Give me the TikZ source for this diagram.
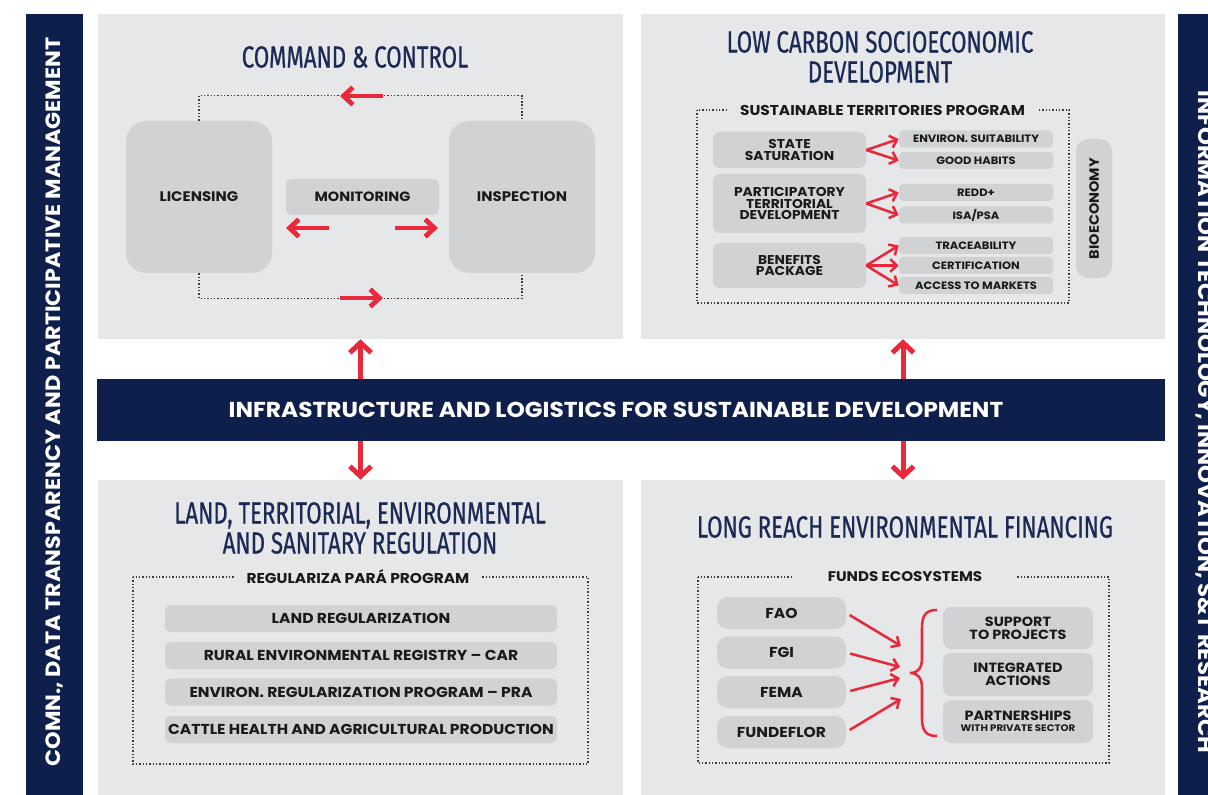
\documentclass[tikz,border=0pt]{standalone}
\usepackage{fontspec}
\setmainfont{Poppins}[FakeStretch=1.08]
\newfontfamily\titlefont[FakeStretch=0.73,FakeBold=0.6]{Fira Sans}
\usetikzlibrary{arrows.meta,calc}
\definecolor{panelgray}{HTML}{E6E7E8}
\definecolor{boxgray}{HTML}{D1D2D4}
\definecolor{navy}{HTML}{0F1F4B}
\definecolor{titlenavy}{HTML}{1B2A55}
\definecolor{arrowred}{HTML}{E8293B}
\definecolor{ink}{HTML}{1A1A1A}
\definecolor{dotgray}{HTML}{3A3A3A}
\tikzset{
  sz/.style 2 args={minimum width=#1*0.75pt, minimum height=#2*0.75pt},
  panel/.style={fill=panelgray, draw=none, inner sep=0pt},
  sidebar/.style={fill=navy, draw=none, inner sep=0pt},
  sidetext/.style={text=white, inner sep=0pt, font=\bfseries\fontsize{15.5}{18}\selectfont},
  titletext/.style={text=titlenavy, align=center, inner sep=0pt, font=\titlefont\fontsize{22.9}{22.5}\selectfont},
  gbox/.style={fill=boxgray, draw=none, inner sep=0pt, text=ink, align=center},
  bigbox/.style={gbox, rounded corners=15pt, font=\bfseries\fontsize{10.4}{12}\selectfont},
  midbox/.style={gbox, rounded corners=4pt, font=\bfseries\fontsize{10.1}{12}\selectfont},
  lbox/.style={gbox, rounded corners=5pt, font=\bfseries\fontsize{9.6}{8.8}\selectfont},
  sbox/.style={gbox, rounded corners=3pt, font=\bfseries\fontsize{8}{9}\selectfont},
  barbox/.style={gbox, rounded corners=4.5pt, font=\bfseries\fontsize{10.8}{12}\selectfont},
  fbox/.style={gbox, rounded corners=8pt, font=\bfseries\fontsize{10.8}{12}\selectfont},
  rbox/.style={gbox, rounded corners=6pt, font=\bfseries\fontsize{10}{9.6}\selectfont},
  framelabel/.style={fill=panelgray, inner sep=0pt, text=ink, font=\bfseries\fontsize{10.7}{12}\selectfont},
  frameline/.style={draw=dotgray, line width=1pt, dash pattern=on 1.1pt off 1.4pt},
  bigarrow/.style={draw=arrowred, line width=3.75pt, -{Straight Barb[length=7.5pt,width=16pt]}},
  hredarrow/.style={draw=arrowred, line width=3.6pt, -{Straight Barb[length=7pt,width=13pt]}},
  thinarrow/.style={draw=arrowred, line width=1.9pt, -{Straight Barb[length=5pt,width=9.5pt]}},
}
\begin{document}
\begin{tikzpicture}[x=0.75pt,y=-0.75pt]
\useasboundingbox (0,0) rectangle (1208,795);
\clip (0,0) rectangle (1208,795);
\fill[white] (0,0) rectangle (1208,795);

% side bars
\node[sidebar, sz={57}{781}] (leftbar) at (54.5,404.5) {};
\node[sidetext, rotate=90] (lefttext) at (54.5,402) {COMN., DATA TRANSPARENCY AND PARTICIPATIVE MANAGEMENT};
\node[sidebar, sz={54}{781}] (rightbar) at (1205,404.5) {};
\node[sidetext, rotate=-90, font=\bfseries\fontsize{15.8}{18}\selectfont] (righttext) at (1205,422) {INFORMATION TECHNOLOGY, INNOVATION, S\&T RESEARCH};

% panels
\node[panel, sz={525}{325}] (tl) at (360.5,176.5) {};
\node[panel, sz={524}{325}] (tr) at (903,176.5) {};
\node[panel, sz={525}{315}] (bl) at (360.5,637.5) {};
\node[panel, sz={524}{315}] (br) at (903,637.5) {};

% central bar
\node[fill=navy, inner sep=0pt, sz={1068}{62}] (infra) at (631,410) {};
\node[text=white, inner sep=0pt, font=\bfseries\fontsize{16.2}{16}\selectfont] (infratext) at (616,410) {INFRASTRUCTURE AND LOGISTICS FOR SUSTAINABLE DEVELOPMENT};
\draw[bigarrow] (infra.north -| tl.south) -- (tl.south);
\draw[bigarrow] (infra.north -| tr.south) -- (tr.south);
\draw[bigarrow] (infra.south -| bl.north) -- (bl.north);
\draw[bigarrow] (infra.south -| br.north) -- (br.north);

% ---------- top-left: command & control
\node[titletext] (tltitle) at (355,57) {COMMAND \& CONTROL};
\node[bigbox, sz={146}{152}] (lic) at (199,197) {LICENSING};
\node[bigbox, sz={146}{152}] (insp) at (522,197) {INSPECTION};
\draw[frameline] (lic.north) -- ++(0,-25) -| (insp.north);
\draw[frameline] (lic.south) -- ++(0,25) -| (insp.south);
\node[midbox, sz={153}{36}] (mon) at (362.5,197) {MONITORING};
\coordinate (ta) at (383,96);
\coordinate (tb) at (340,96);
\coordinate (ba) at (340,298);
\coordinate (bb) at (383,298);
\draw[hredarrow] (ta) -- (tb);
\draw[hredarrow] (ba) -- (bb);
\coordinate (ma) at (329,228);
\coordinate (mb) at (286,228);
\coordinate (mc) at (395,228);
\coordinate (md) at (438,228);
\draw[hredarrow] (ma) -- (mb);
\draw[hredarrow] (mc) -- (md);

% ---------- top-right: low carbon
\node[titletext] (trtitle) at (880,57) {LOW CARBON SOCIOECONOMIC\\DEVELOPMENT};
\draw[frameline] (697,110) rectangle (1069,303);
\node[framelabel, sz={311}{16}] (stp) at (882.5,110) {SUSTAINABLE TERRITORIES PROGRAM};
\node[lbox, sz={153}{36}] (ss) at (789.5,150) {STATE\\SATURATION};
\node[lbox, sz={153}{59}] (ptd) at (789.5,203.5) {PARTICIPATORY\\TERRITORIAL\\DEVELOPMENT};
\node[lbox, sz={153}{45}] (bp) at (789.5,265.5) {BENEFITS\\PACKAGE};
\node[sbox, sz={154}{17}] (es) at (976,139) {ENVIRON. SUITABILITY};
\node[sbox, sz={154}{17}] (gh) at (976,160.5) {GOOD HABITS};
\node[sbox, sz={154}{17}] (redd) at (976,192.5) {REDD+};
\node[sbox, sz={154}{17}] (isa) at (976,215) {ISA/PSA};
\node[sbox, sz={154}{17}] (trc) at (976,245.5) {TRACEABILITY};
\node[sbox, sz={154}{17}] (cert) at (976,265.5) {CERTIFICATION};
\node[sbox, sz={154}{17}] (acc) at (976,285.5) {ACCESS TO MARKETS};
\node[gbox, rounded corners=9pt, rotate=90, sz={139}{36}, font=\bfseries\fontsize{10.1}{12}\selectfont] (bio) at (1094,208.5) {BIOECONOMY};
\draw[thinarrow] (ss.east) -- (es.west);
\draw[thinarrow] (ss.east) -- (gh.west);
\draw[thinarrow] (ptd.east) -- (redd.west);
\draw[thinarrow] (ptd.east) -- (isa.west);
\draw[thinarrow] (bp.east) -- (trc.west);
\draw[thinarrow] (bp.east) -- (cert.west);
\draw[thinarrow] (bp.east) -- (acc.west);

% ---------- bottom-left: regulation
\node[titletext] (bltitle) at (360,528) {LAND, TERRITORIAL, ENVIRONMENTAL\\AND SANITARY REGULATION};
\draw[frameline] (133,577) rectangle (588,764);
\node[framelabel, sz={248}{16}] (rpp) at (358,577) {REGULARIZA PARÁ PROGRAM};
\node[barbox, sz={392}{27}] (lr) at (361,618.5) {LAND REGULARIZATION};
\node[barbox, sz={392}{27}] (rer) at (361,655.5) {RURAL ENVIRONMENTAL REGISTRY – CAR};
\node[barbox, sz={392}{27}] (pra) at (361,692) {ENVIRON. REGULARIZATION PROGRAM – PRA};
\node[barbox, sz={392}{27}] (chp) at (361,729.5) {CATTLE HEALTH AND AGRICULTURAL PRODUCTION};

% ---------- bottom-right: financing
\node[titletext] (brtitle) at (905,527) {LONG REACH ENVIRONMENTAL FINANCING};
\draw[frameline] (698,577) rectangle (1109,763);
\node[framelabel, sz={224}{16}, font=\bfseries\fontsize{10.5}{12}\selectfont] (fe) at (905,577) {FUNDS ECOSYSTEMS};
\node[fbox, sz={129}{32}] (fao) at (781.5,613) {FAO};
\node[fbox, sz={129}{32}] (fgi) at (781.5,652.5) {FGI};
\node[fbox, sz={129}{32}] (fema) at (781.5,692) {FEMA};
\node[fbox, sz={129}{32}] (fund) at (781.5,732) {FUNDEFLOR};
\node[rbox, sz={150}{42}] (sup) at (1018,628) {SUPPORT\\TO PROJECTS};
\node[rbox, sz={150}{43}] (ia) at (1018,674.5) {INTEGRATED\\ACTIONS};
\node[rbox, sz={150}{43}] (pws) at (1018,721.5) {PARTNERSHIPS\\[-1pt]{\fontsize{7.1}{8}\selectfont WITH PRIVATE SECTOR}};
\coordinate (brtip) at (910,673);
\draw[arrowred, line width=1.9pt] (937,610) .. controls (926,610) and (922,615) .. (922,628) -- (922,658) .. controls (922,668) and (918,673) .. (brtip) .. controls (918,673) and (922,678) .. (922,688) -- (922,718) .. controls (922,731) and (926,736) .. (937,736);
\coordinate (t1) at (901,646);
\coordinate (t2) at (900,667);
\coordinate (t3) at (900,678);
\coordinate (t4) at (901,699);
\draw[thinarrow, shorten <=3pt] (fao.east) -- (t1);
\draw[thinarrow, shorten <=3pt] (fgi.east) -- (t2);
\draw[thinarrow, shorten <=3pt] (fema.east) -- (t3);
\draw[thinarrow, shorten <=3pt] (fund.east) -- (t4);
\end{tikzpicture}
\end{document}
